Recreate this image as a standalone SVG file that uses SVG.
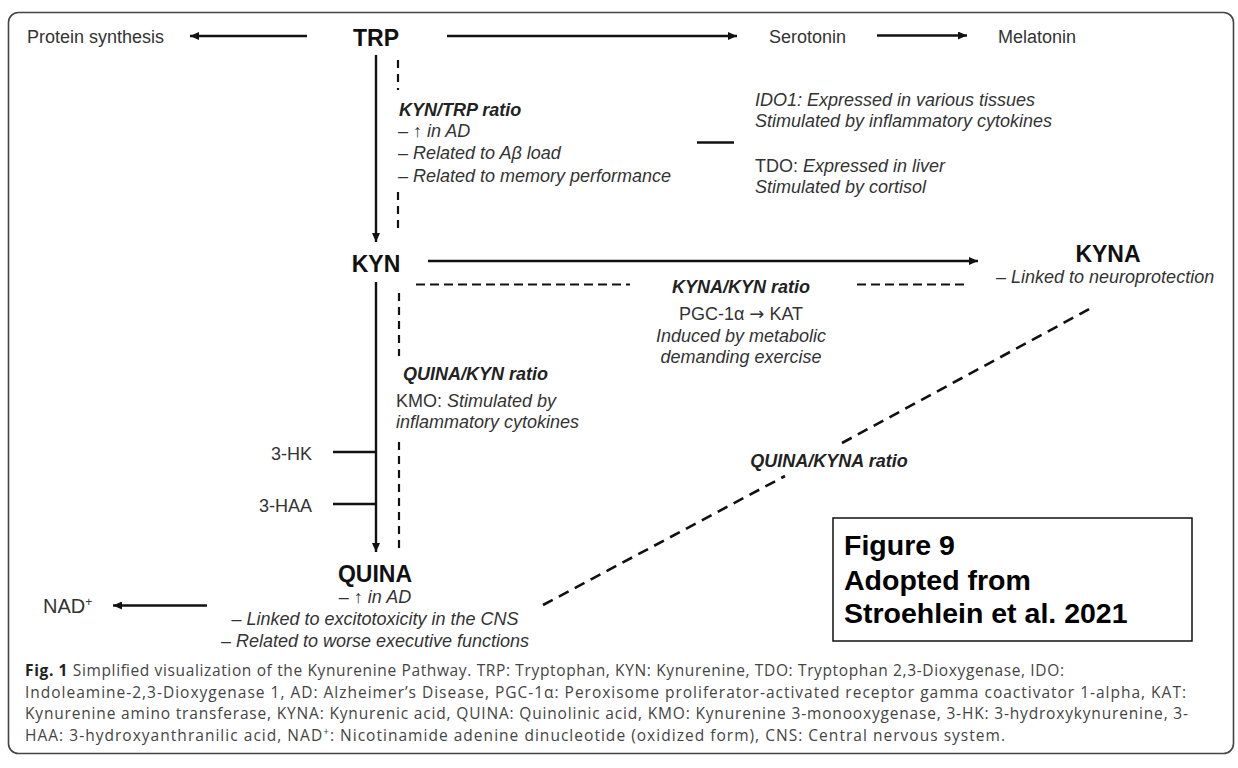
<svg xmlns="http://www.w3.org/2000/svg" width="1238" height="768" viewBox="0 0 1238 768">
<defs>
<marker id="ah" markerUnits="userSpaceOnUse" markerWidth="10" markerHeight="8" refX="9" refY="4" orient="auto">
<path d="M0,0 L9,4 L0,8 z" fill="#111"/>
</marker>
<style>
.t{font-family:"Liberation Sans",Arial,sans-serif;font-size:18px;fill:#333}
.i{font-style:italic}
.bi{font-style:italic;font-weight:bold;fill:#222}
.n{font-family:"Liberation Sans",Arial,sans-serif;font-size:23px;font-weight:bold;fill:#111}
.ln{stroke:#111;stroke-width:2.4;fill:none}
.ar{stroke:#111;stroke-width:2.4;fill:none;marker-end:url(#ah)}
.dv{stroke:#111;stroke-width:2.2;fill:none;stroke-dasharray:8 6}
.dh{stroke:#111;stroke-width:2.2;fill:none;stroke-dasharray:9 5}
.dd{stroke:#111;stroke-width:2.6;fill:none;stroke-dasharray:11 7}
.cap{font-family:"Open Sans","Noto Sans",sans-serif;font-size:15.5px;fill:#444}
.box{font-family:"Liberation Sans",Arial,sans-serif;font-size:28.5px;font-weight:bold;fill:#000}
</style>
</defs>
<rect x="8.5" y="12.5" width="1225" height="741" rx="10" fill="#fff" stroke="#444" stroke-width="1.6"/>

<g id="connectors">
<line class="ar" x1="307" y1="36" x2="190" y2="36"/>
<line class="ar" x1="447" y1="36" x2="737" y2="36"/>
<line class="ar" x1="877" y1="35.5" x2="967" y2="35.5"/>
<line class="ar" x1="376" y1="55" x2="376" y2="242"/>
<line class="dv" x1="398" y1="60" x2="398" y2="90"/>
<line class="dv" x1="398" y1="192" x2="398" y2="232"/>
<line class="ln" x1="697" y1="142.5" x2="734" y2="142.5"/>
<line class="ar" x1="428" y1="261" x2="978" y2="261"/>
<line class="dh" x1="416" y1="284.5" x2="630" y2="284.5"/>
<line class="dh" x1="857" y1="284.5" x2="968" y2="284.5"/>
<line class="ar" x1="376" y1="282" x2="376" y2="552"/>
<line class="dv" x1="399" y1="293" x2="399" y2="356"/>
<line class="dv" x1="399" y1="442" x2="399" y2="552"/>
<line class="ln" x1="333" y1="452" x2="376" y2="452"/>
<line class="ln" x1="333" y1="504" x2="376" y2="504"/>
<line class="ar" x1="207" y1="605.5" x2="113" y2="605.5"/>
<line class="dd" x1="543" y1="605" x2="785" y2="476"/>
<line class="dd" x1="842" y1="443" x2="1093" y2="307"/>
</g>

<g id="protein"><text class="t" x="27" y="43">Protein synthesis</text></g>
<g id="trp"><text class="n" x="376" y="45.5" text-anchor="middle">TRP</text></g>
<g id="serotonin"><text class="t" x="769" y="42.5">Serotonin</text></g>
<g id="melatonin"><text class="t" x="998" y="42.5">Melatonin</text></g>

<g id="kyn-trp-ratio">
<text class="t bi" x="399" y="116">KYN/TRP ratio</text>
<text class="t i" x="398" y="137">– ↑ in AD</text>
<text class="t i" x="398" y="159">– Related to Aβ load</text>
<text class="t i" x="398" y="181.5">– Related to memory performance</text>
</g>

<g id="enzymes">
<text class="t i" x="755" y="106">IDO1: Expressed in various tissues</text>
<text class="t i" x="755" y="127">Stimulated by inflammatory cytokines</text>
<text class="t" x="755" y="172">TDO: <tspan class="i">Expressed in liver</tspan></text>
<text class="t i" x="755" y="193">Stimulated by cortisol</text>
</g>

<g id="kyn"><text class="n" x="376" y="271.5" text-anchor="middle">KYN</text></g>

<g id="kyna">
<text class="n" x="1108" y="262" text-anchor="middle">KYNA</text>
<text class="t i" x="996" y="283">– Linked to neuroprotection</text>
</g>

<g id="kyna-kyn-ratio">
<text class="t bi" x="741" y="293" text-anchor="middle">KYNA/KYN ratio</text>
<text class="t" x="741" y="320" text-anchor="middle">PGC-1α <tspan style="font-family:'DejaVu Sans',sans-serif">→</tspan> KAT</text>
<text class="t i" x="741" y="342" text-anchor="middle">Induced by metabolic</text>
<text class="t i" x="741" y="363" text-anchor="middle">demanding exercise</text>
</g>

<g id="quina-kyn-ratio">
<text class="t bi" x="403" y="380">QUINA/KYN ratio</text>
<text class="t" x="396" y="407">KMO: <tspan class="i">Stimulated by</tspan></text>
<text class="t i" x="396" y="428">inflammatory cytokines</text>
</g>

<g id="hk"><text class="t" x="312" y="460" text-anchor="end">3-HK</text></g>
<g id="haa"><text class="t" x="312" y="511.5" text-anchor="end">3-HAA</text></g>

<g id="quina-kyna-ratio"><text class="t bi" x="829" y="466.5" text-anchor="middle">QUINA/KYNA ratio</text></g>

<g id="quina">
<text class="n" x="375" y="582" text-anchor="middle">QUINA</text>
<text class="t i" x="375" y="603" text-anchor="middle">– ↑ in AD</text>
<text class="t i" x="375" y="625" text-anchor="middle">– Linked to excitotoxicity in the CNS</text>
<text class="t i" x="375" y="647" text-anchor="middle">– Related to worse executive functions</text>
</g>

<g id="nad"><text class="t" x="43" y="613" style="font-size:20px">NAD<tspan dy="-7" style="font-size:12px">+</tspan></text></g>

<g id="figure-note">
<rect x="833" y="518" width="359" height="123" fill="#fff" stroke="#111" stroke-width="1.5"/>
<text class="box" x="844" y="555">Figure 9</text>
<text class="box" x="844" y="590">Adopted from</text>
<text class="box" x="844" y="623">Stroehlein et al. 2021</text>
</g>

<g id="caption">
<text class="cap" x="25" y="676" textLength="1039"><tspan style="font-weight:bold;fill:#222">Fig. 1</tspan> Simplified visualization of the Kynurenine Pathway. TRP: Tryptophan, KYN: Kynurenine, TDO: Tryptophan 2,3-Dioxygenase, IDO:</text>
<text class="cap" x="25" y="697.5" textLength="1161">Indoleamine-2,3-Dioxygenase 1, AD: Alzheimer’s Disease, PGC-1α: Peroxisome proliferator-activated receptor gamma coactivator 1-alpha, KAT:</text>
<text class="cap" x="25" y="719" textLength="1163">Kynurenine amino transferase, KYNA: Kynurenic acid, QUINA: Quinolinic acid, KMO: Kynurenine 3-monooxygenase, 3-HK: 3-hydroxykynurenine, 3-</text>
<text class="cap" x="25" y="740.5" textLength="980">HAA: 3-hydroxyanthranilic acid, NAD<tspan dy="-6" style="font-size:10px">+</tspan><tspan dy="6">: Nicotinamide adenine dinucleotide (oxidized form), CNS: Central nervous system.</tspan></text>
</g>
</svg>
